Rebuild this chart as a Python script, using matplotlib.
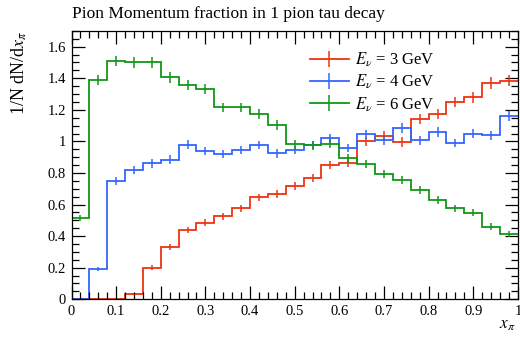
import numpy as np
import matplotlib
matplotlib.use("Agg")
import matplotlib.pyplot as plt
from matplotlib.lines import Line2D
from matplotlib.ticker import MultipleLocator, FuncFormatter

# Binning of the pion momentum fraction x_pi
bin_edges = np.linspace(0.0, 1.0, 26)

# 1/N dN/dx_pi for the three neutrino energies
vals_3gev = [0.0, 0.0, 0.0, 0.03, 0.20, 0.33, 0.44, 0.485, 0.525, 0.575,
             0.645, 0.665, 0.715, 0.77, 0.85, 0.865, 1.0, 1.035, 0.995, 1.14,
             1.175, 1.25, 1.28, 1.37, 1.385]
errs_3gev = [0.0, 0.0, 0.0, 0.006, 0.015, 0.018, 0.02, 0.021, 0.022, 0.023,
             0.024, 0.025, 0.025, 0.026, 0.027, 0.028, 0.029, 0.03, 0.03, 0.032,
             0.032, 0.033, 0.034, 0.035, 0.035]

vals_4gev = [0.0, 0.19, 0.75, 0.82, 0.86, 0.885, 0.98, 0.94, 0.92, 0.945,
             0.977, 0.924, 0.945, 0.977, 1.02, 0.958, 1.046, 1.006, 1.084, 1.008,
             1.06, 0.99, 1.048, 1.04, 1.16]
errs_4gev = [0.0, 0.012, 0.024, 0.025, 0.026, 0.026, 0.028, 0.027, 0.027, 0.027,
             0.028, 0.027, 0.027, 0.028, 0.029, 0.028, 0.029, 0.028, 0.03, 0.028,
             0.029, 0.028, 0.029, 0.029, 0.03]

vals_6gev = [0.515, 1.39, 1.51, 1.50, 1.50, 1.405, 1.356, 1.331, 1.215, 1.215,
             1.173, 1.105, 0.983, 0.975, 0.985, 0.893, 0.858, 0.792, 0.757, 0.692,
             0.628, 0.576, 0.548, 0.46, 0.413]
errs_6gev = [0.02, 0.033, 0.034, 0.034, 0.034, 0.033, 0.032, 0.032, 0.031, 0.031,
             0.03, 0.03, 0.028, 0.028, 0.028, 0.027, 0.026, 0.025, 0.025, 0.024,
             0.023, 0.022, 0.022, 0.02, 0.019]

series_labels = [r"$E_\nu$ = 3 GeV", r"$E_\nu$ = 4 GeV", r"$E_\nu$ = 6 GeV"]
series_colors = ["#EE3311", "#3366FF", "#109618"]

plt.rcParams["font.family"] = ["Liberation Serif", "DejaVu Serif"]
plt.rcParams["mathtext.fontset"] = "stix"

fig = plt.figure(figsize=(5.2, 3.4), dpi=100)
ax = fig.add_axes([0.1375, 0.12, 0.8585, 0.789])

centers = 0.5 * (bin_edges[:-1] + bin_edges[1:])

handles = []
for vals, errs, lab, col in zip([vals_3gev, vals_4gev, vals_6gev],
                                [errs_3gev, errs_4gev, errs_6gev],
                                series_labels, series_colors):
    ax.stairs(vals, bin_edges, color=col, lw=1.3, baseline=None)
    ax.errorbar(centers, vals, yerr=errs, fmt="none",
                ecolor=col, elinewidth=1.1, capsize=0)
    handles.append(Line2D([], [], color=col, lw=1.3, marker="|",
                          markersize=12, markeredgewidth=1.1, label=lab))

ax.set_xlim(0, 1)
ax.set_ylim(0, 1.7)

ax.xaxis.set_major_locator(MultipleLocator(0.1))
ax.xaxis.set_minor_locator(MultipleLocator(0.02))
ax.yaxis.set_major_locator(MultipleLocator(0.2))
ax.yaxis.set_minor_locator(MultipleLocator(0.05))
fmt = FuncFormatter(lambda v, p: ("%.1f" % v).rstrip("0").rstrip(".") if abs(v) > 1e-9 else "0")
ax.xaxis.set_major_formatter(fmt)
ax.yaxis.set_major_formatter(fmt)

ax.tick_params(which="both", direction="in", top=True, right=True,
               width=0.9, labelsize=10.5)
ax.tick_params(which="major", length=9.5, pad=4)
ax.tick_params(which="minor", length=5)
for s in ax.spines.values():
    s.set_linewidth(0.9)

ax.text(0.0, 1.035, "Pion Momentum fraction in 1 pion tau decay",
        transform=ax.transAxes, fontsize=12.5, ha="left", va="bottom")
ax.set_ylabel(r"1/N dN/d$x_\pi$", fontsize=13)
ax.yaxis.set_label_coords(-0.095, 1.0)
ax.yaxis.label.set_ha("right")
ax.set_xlabel(r"$x_\pi$", fontsize=12.5)
ax.xaxis.set_label_coords(0.995, -0.065)
ax.xaxis.label.set_ha("right")
ax.xaxis.label.set_va("top")

ax.legend(handles=handles, loc="upper left", bbox_to_anchor=(0.52, 0.95),
          frameon=False, fontsize=12, handlelength=2.3, handletextpad=0.4,
          labelspacing=0.22, borderaxespad=0.0)

fig.savefig("out.png", dpi=100)
